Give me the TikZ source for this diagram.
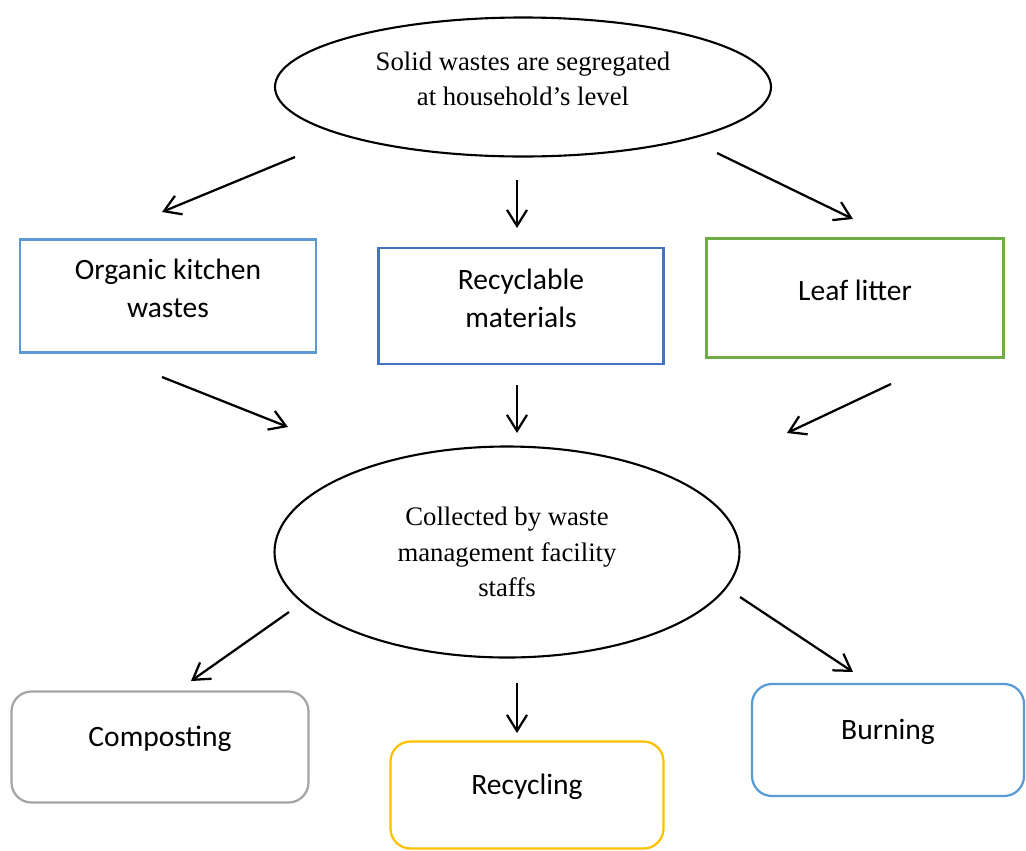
\documentclass[tikz,border=0pt]{standalone}
\usepackage{fontspec}
\setmainfont{Liberation Serif}
\newfontfamily\boxfont{Carlito}
\usetikzlibrary{shapes.geometric}
\usetikzlibrary{arrows.meta}

\begin{document}
\begin{tikzpicture}[x=0.025cm, y=-0.025cm]
    \definecolor{skyline}{HTML}{5B9BD5}
\definecolor{deepline}{HTML}{4472C4}
\definecolor{leafline}{HTML}{70AD47}
\definecolor{greyline}{HTML}{A5A5A5}
\definecolor{goldline}{HTML}{FFC000}

\newcommand\px{0.025cm}

\tikzset{
    oval/.style={
        draw, ellipse, line width=1.5pt,
        inner sep=0pt, align=center,
        font=\fontsize{19}{25}\selectfont,
    },
    plain box/.style={
        draw, rectangle, line width=1.6pt,
        inner sep=0pt, align=center,
        font=\boxfont\fontsize{21}{27}\selectfont,
    },
    round box/.style={
        plain box, rounded corners=5mm,
    },
    flow/.style={
        line width=1.6pt,
        -{Straight Barb[length=4mm, width=5mm]},
    },
}

\useasboundingbox (0, 0) rectangle (1026, 850);

% top and middle ellipses
\node[oval, minimum width={496*\px}, minimum height={139*\px}]
    at (523, 87) (source) {Solid wastes are segregated\\at household's level\\[-13pt]\mbox{}};
\node[oval, minimum width={465*\px}, minimum height={211*\px}]
    at (507, 552) (collect) {Collected by waste\\management facility\\staffs};

% waste kinds
\node[plain box, draw=skyline, minimum width={296*\px}, minimum height={113*\px}]
    at (168, 296) (organic) {Organic kitchen\\wastes\\[-15.5pt]\mbox{}};
\node[plain box, draw=deepline, minimum width={285*\px}, minimum height={116*\px}]
    at (521, 306) (recyclable) {Recyclable\\materials\\[-15.5pt]\mbox{}};
\node[plain box, draw=leafline, minimum width={297*\px}, minimum height={119*\px}]
    at (855, 298) (leaf) {Leaf litter\\[-15.5pt]\mbox{}};

% treatments
\node[round box, draw=greyline, minimum width={297*\px}, minimum height={111*\px}]
    at (160, 747) (compost) {Composting\\[-12pt]\mbox{}};
\node[round box, draw=goldline, minimum width={273*\px}, minimum height={107*\px}]
    at (527, 795) (recycle) {Recycling\\[-12pt]\mbox{}};
\node[round box, draw=skyline, minimum width={272*\px}, minimum height={112*\px}]
    at (888, 740) (burn) {Burning\\[-12pt]\mbox{}};

% arrow ends
\coordinate (s-l) at (295, 157);
\coordinate (s-l-e) at (162, 212);
\coordinate (s-c) at (517, 180);
\coordinate (s-c-e) at (517, 228);
\coordinate (s-r) at (717, 153);
\coordinate (s-r-e) at (853, 219);

\coordinate (k-l) at (162, 377);
\coordinate (k-l-e) at (288, 427);
\coordinate (k-c) at (517, 385);
\coordinate (k-c-e) at (517, 433);
\coordinate (k-r) at (891, 384);
\coordinate (k-r-e) at (787, 433);

\coordinate (c-l) at (289, 612);
\coordinate (c-l-e) at (191, 681);
\coordinate (c-c) at (517, 683);
\coordinate (c-c-e) at (517, 733);
\coordinate (c-r) at (740, 597);
\coordinate (c-r-e) at (853, 672);

\draw[flow] (s-l) -- (s-l-e);
\draw[flow] (s-c) -- (s-c-e);
\draw[flow] (s-r) -- (s-r-e);

\draw[flow] (k-l) -- (k-l-e);
\draw[flow] (k-c) -- (k-c-e);
\draw[flow] (k-r) -- (k-r-e);

\draw[flow] (c-l) -- (c-l-e);
\draw[flow] (c-c) -- (c-c-e);
\draw[flow] (c-r) -- (c-r-e);
\end{tikzpicture}
\end{document}
